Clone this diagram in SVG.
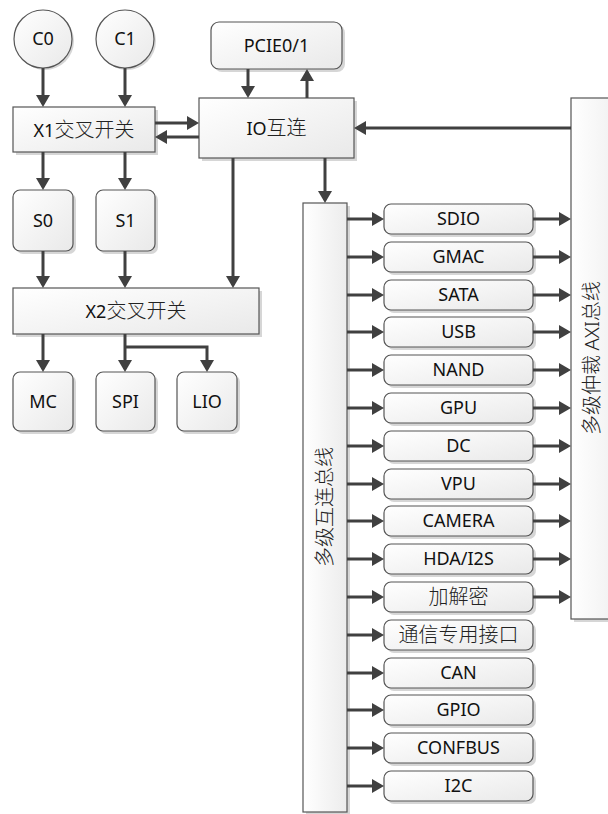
<svg xmlns="http://www.w3.org/2000/svg" width="608" height="814" viewBox="0 0 608 814">
<style>
.box{stroke:#555;stroke-width:1.2;fill:url(#g)}
.bus{stroke:#555;stroke-width:1.2;fill:url(#gh)}
.sh{fill:#d6d6d6}
.t{font-family:"Noto Sans","Open Sans","Noto Sans CJK SC",sans-serif;font-size:18px;fill:#111;text-anchor:middle}
.c{font-family:"Noto Sans CJK SC","Noto Sans",sans-serif;font-size:20px;font-weight:300;fill:#222}
.tc{font-family:"Noto Sans CJK SC",sans-serif;font-size:20px;font-weight:300;fill:#222;text-anchor:middle}
.ln{stroke:#404040;stroke-width:3;fill:none;marker-end:url(#ah)}
</style>
<defs>
<linearGradient id="g" x1="0" y1="0" x2="1" y2="1"><stop offset="0" stop-color="#ffffff"/><stop offset="1" stop-color="#e9e9e9"/></linearGradient>
<linearGradient id="gh" x1="0" y1="0" x2="1" y2="0"><stop offset="0" stop-color="#ffffff"/><stop offset="1" stop-color="#ececec"/></linearGradient>
<marker id="ah" markerUnits="userSpaceOnUse" markerWidth="14" markerHeight="14" refX="9" refY="7" orient="auto"><path d="M0,0 L12,7 L0,14 z" fill="#404040"/></marker>
</defs>
<rect width="608" height="814" fill="#fff"/>

<g id="C0"><circle class="sh" cx="45" cy="41" r="29"/><circle class="box" cx="43" cy="39" r="29"/><text class="t" x="43" y="45">C0</text></g>
<g id="C1"><circle class="sh" cx="127" cy="41" r="29"/><circle class="box" cx="125" cy="39" r="29"/><text class="t" x="125" y="45">C1</text></g>
<g id="PCIE"><rect class="sh" x="214" y="25" width="131" height="47" rx="8"/><rect class="box" x="211" y="22" width="131" height="47" rx="8"/><text class="t" x="276.5" y="52">PCIE0/1</text></g>
<g id="X1"><rect class="sh" x="16" y="110" width="142" height="45"/><rect class="box" x="13" y="107" width="142" height="45"/><text class="t" x="84" y="137">X1<tspan class="c">交叉开关</tspan></text></g>
<g id="IO"><rect class="sh" x="202" y="101" width="155" height="60"/><rect class="box" x="199" y="98" width="155" height="60"/><text class="t" x="276.5" y="135">IO<tspan class="c">互连</tspan></text></g>
<g id="S0"><rect class="sh" x="16" y="193" width="60" height="61" rx="7"/><rect class="box" x="13" y="190" width="60" height="61" rx="7"/><text class="t" x="43" y="227">S0</text></g>
<g id="S1"><rect class="sh" x="99" y="193" width="59" height="61" rx="7"/><rect class="box" x="96" y="190" width="59" height="61" rx="7"/><text class="t" x="125.5" y="227">S1</text></g>
<g id="X2"><rect class="sh" x="16" y="291" width="246" height="46"/><rect class="box" x="13" y="288" width="246" height="46"/><text class="t" x="136" y="318">X2<tspan class="c">交叉开关</tspan></text></g>
<g id="MC"><rect class="sh" x="16" y="375" width="60" height="59" rx="7"/><rect class="box" x="13" y="372" width="60" height="59" rx="7"/><text class="t" x="43" y="408">MC</text></g>
<g id="SPI"><rect class="sh" x="99" y="375" width="59" height="59" rx="7"/><rect class="box" x="96" y="372" width="59" height="59" rx="7"/><text class="t" x="125.5" y="408">SPI</text></g>
<g id="LIO"><rect class="sh" x="180" y="375" width="60" height="59" rx="7"/><rect class="box" x="177" y="372" width="60" height="59" rx="7"/><text class="t" x="207" y="408">LIO</text></g>

<g id="bus-interconnect"><rect class="sh" x="306" y="206" width="44" height="609"/><rect class="bus" x="303" y="203" width="44" height="609"/><text class="tc" transform="translate(325,507) rotate(-90)" x="0" y="7">多级互连总线</text></g>
<g id="bus-axi"><rect class="sh" x="574" y="101" width="60" height="521"/><rect class="bus" x="571" y="98" width="60" height="521"/><text class="tc" transform="translate(592,358) rotate(-90)" x="0" y="7">多级仲裁 <tspan font-family="Noto Sans">AXI</tspan>总线</text></g>

<g id="SDIO"><rect class="sh" x="387" y="207" width="149" height="30" rx="7"/><rect class="box" x="384" y="204" width="149" height="30" rx="7"/><text class="t" x="458.5" y="225">SDIO</text></g>
<g id="GMAC"><rect class="sh" x="387" y="245" width="149" height="30" rx="7"/><rect class="box" x="384" y="242" width="149" height="30" rx="7"/><text class="t" x="458.5" y="263">GMAC</text></g>
<g id="SATA"><rect class="sh" x="387" y="283" width="149" height="30" rx="7"/><rect class="box" x="384" y="280" width="149" height="30" rx="7"/><text class="t" x="458.5" y="301">SATA</text></g>
<g id="USB"><rect class="sh" x="387" y="320" width="149" height="30" rx="7"/><rect class="box" x="384" y="317" width="149" height="30" rx="7"/><text class="t" x="458.5" y="338">USB</text></g>
<g id="NAND"><rect class="sh" x="387" y="358" width="149" height="30" rx="7"/><rect class="box" x="384" y="355" width="149" height="30" rx="7"/><text class="t" x="458.5" y="376">NAND</text></g>
<g id="GPU"><rect class="sh" x="387" y="396" width="149" height="30" rx="7"/><rect class="box" x="384" y="393" width="149" height="30" rx="7"/><text class="t" x="458.5" y="414">GPU</text></g>
<g id="DC"><rect class="sh" x="387" y="434" width="149" height="30" rx="7"/><rect class="box" x="384" y="431" width="149" height="30" rx="7"/><text class="t" x="458.5" y="452">DC</text></g>
<g id="VPU"><rect class="sh" x="387" y="472" width="149" height="30" rx="7"/><rect class="box" x="384" y="469" width="149" height="30" rx="7"/><text class="t" x="458.5" y="490">VPU</text></g>
<g id="CAMERA"><rect class="sh" x="387" y="509" width="149" height="30" rx="7"/><rect class="box" x="384" y="506" width="149" height="30" rx="7"/><text class="t" x="458.5" y="527">CAMERA</text></g>
<g id="HDA"><rect class="sh" x="387" y="547" width="149" height="30" rx="7"/><rect class="box" x="384" y="544" width="149" height="30" rx="7"/><text class="t" x="458.5" y="565">HDA/I2S</text></g>
<g id="CRYPTO"><rect class="sh" x="387" y="585" width="149" height="30" rx="7"/><rect class="box" x="384" y="582" width="149" height="30" rx="7"/><text class="tc" x="458.5" y="604">加解密</text></g>
<g id="COMM"><rect class="sh" x="387" y="623" width="149" height="30" rx="7"/><rect class="box" x="384" y="620" width="149" height="30" rx="7"/><text class="tc" x="458.5" y="642">通信专用接口</text></g>
<g id="CAN"><rect class="sh" x="387" y="661" width="149" height="30" rx="7"/><rect class="box" x="384" y="658" width="149" height="30" rx="7"/><text class="t" x="458.5" y="679">CAN</text></g>
<g id="GPIO"><rect class="sh" x="387" y="698" width="149" height="30" rx="7"/><rect class="box" x="384" y="695" width="149" height="30" rx="7"/><text class="t" x="458.5" y="716">GPIO</text></g>
<g id="CONFBUS"><rect class="sh" x="387" y="736" width="149" height="30" rx="7"/><rect class="box" x="384" y="733" width="149" height="30" rx="7"/><text class="t" x="458.5" y="754">CONFBUS</text></g>
<g id="I2C"><rect class="sh" x="387" y="774" width="149" height="30" rx="7"/><rect class="box" x="384" y="771" width="149" height="30" rx="7"/><text class="t" x="458.5" y="792">I2C</text></g>

<g id="connectors">
<path class="ln" d="M43,68 V104"/>
<path class="ln" d="M125,68 V104"/>
<path class="ln" d="M248,69 V95"/>
<path class="ln" d="M307,98 V72"/>
<path class="ln" d="M155,123 H196"/>
<path class="ln" d="M199,137 H158"/>
<path class="ln" d="M571,128 H357"/>
<path class="ln" d="M43,152 V187"/>
<path class="ln" d="M125,152 V187"/>
<path class="ln" d="M43,251 V285"/>
<path class="ln" d="M125,251 V285"/>
<path class="ln" d="M233,158 V285"/>
<path class="ln" d="M43,334 V369"/>
<path class="ln" d="M125,334 V369"/>
<path class="ln" d="M125,347 H207 V369"/>
<path class="ln" d="M325,158 V200"/>
<path class="ln" d="M347,219 H381"/>
<path class="ln" d="M347,257 H381"/>
<path class="ln" d="M347,295 H381"/>
<path class="ln" d="M347,332 H381"/>
<path class="ln" d="M347,370 H381"/>
<path class="ln" d="M347,408 H381"/>
<path class="ln" d="M347,446 H381"/>
<path class="ln" d="M347,484 H381"/>
<path class="ln" d="M347,521 H381"/>
<path class="ln" d="M347,559 H381"/>
<path class="ln" d="M347,597 H381"/>
<path class="ln" d="M347,635 H381"/>
<path class="ln" d="M347,673 H381"/>
<path class="ln" d="M347,710 H381"/>
<path class="ln" d="M347,748 H381"/>
<path class="ln" d="M347,786 H381"/>
<path class="ln" d="M533,219 H568"/>
<path class="ln" d="M533,257 H568"/>
<path class="ln" d="M533,295 H568"/>
<path class="ln" d="M533,332 H568"/>
<path class="ln" d="M533,370 H568"/>
<path class="ln" d="M533,408 H568"/>
<path class="ln" d="M533,446 H568"/>
<path class="ln" d="M533,484 H568"/>
<path class="ln" d="M533,521 H568"/>
<path class="ln" d="M533,559 H568"/>
<path class="ln" d="M533,597 H568"/>
</g>
</svg>
